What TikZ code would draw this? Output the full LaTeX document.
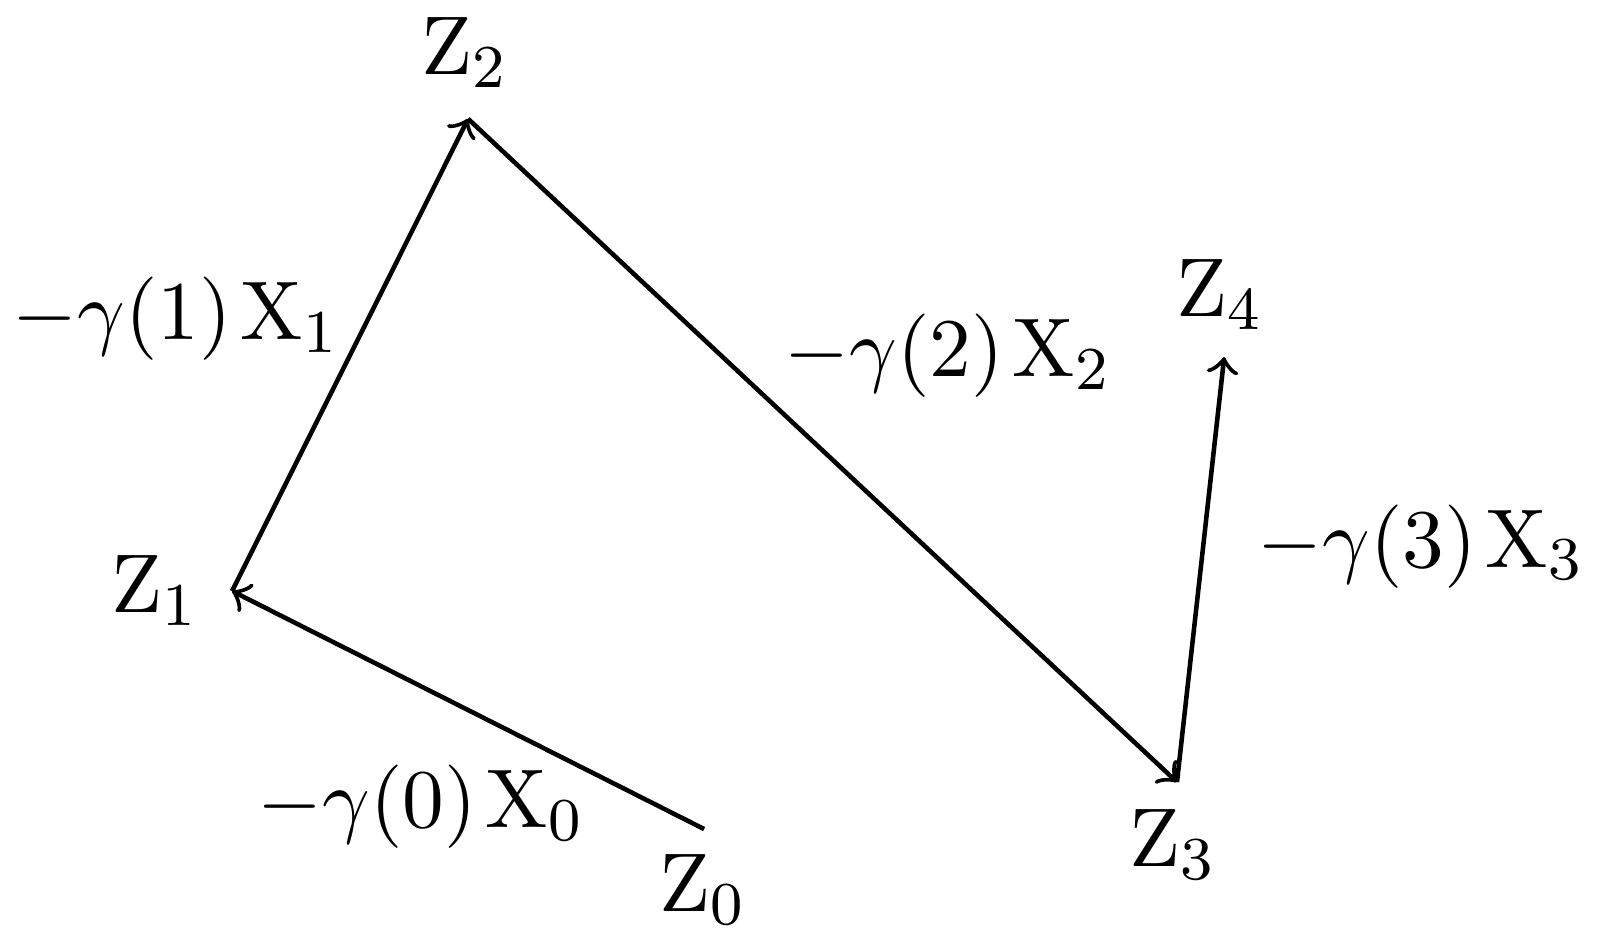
\documentclass[tikz,border=0pt]{standalone}
\usepackage{amsmath}
\usepackage{amssymb}
\usetikzlibrary{arrows}
\newcommand{\lwidth}{0.6pt}

\begin{document}
\begin{tikzpicture}[every node/.style={inner sep=0pt, anchor=base west, font=\fontsize{10.8pt}{13pt}\selectfont}]
        %\draw[help lines] (0,0) grid (8,5);
        \useasboundingbox (0,0) rectangle (7.376,4.360);
        \tikzset{step line/.style = {->, line width=\lwidth}}
        % points of the walk
        \coordinate (z0) at (3.252,0.531);
        \coordinate (z1) at (1.072,1.630);
        \coordinate (z2) at (2.162,3.811);
        \coordinate (z3) at (5.436,0.748);
        \coordinate (z4) at (5.654,2.711);
        
        \node (lz0) at (3.037,0.148) {$\mathrm{Z}_0$};
        \node (lz1) at (0.506,1.529) {$\mathrm{Z}_1$};
        \node (lz2) at (1.938,4.014) {$\mathrm{Z}_2$};
        \node (lz3) at (5.208,0.356) {$\mathrm{Z}_3$};
        \node (lz4) at (5.425,2.896) {$\mathrm{Z}_4$};
        
        \node (g0) at (1.183,0.536) {$-\gamma(0)\mskip2mu\mathrm{X}_0$};
        \node (g1) at (0.051,2.790) {$-\gamma(1)\mskip2mu\mathrm{X}_1$};
        \node (g2) at (3.617,2.619) {$-\gamma(2)\mskip2mu\mathrm{X}_2$};
        \node (g3) at (5.802,1.741) {$-\gamma(3)\mskip2mu\mathrm{X}_3$};
        
        \draw[step line] (z0) -- (z1);
        \draw[step line] (z1) -- (z2);
        \draw[step line] (z2) -- (z3);
        \draw[step line] (z3) -- (z4);
        
\end{tikzpicture}
\end{document}
